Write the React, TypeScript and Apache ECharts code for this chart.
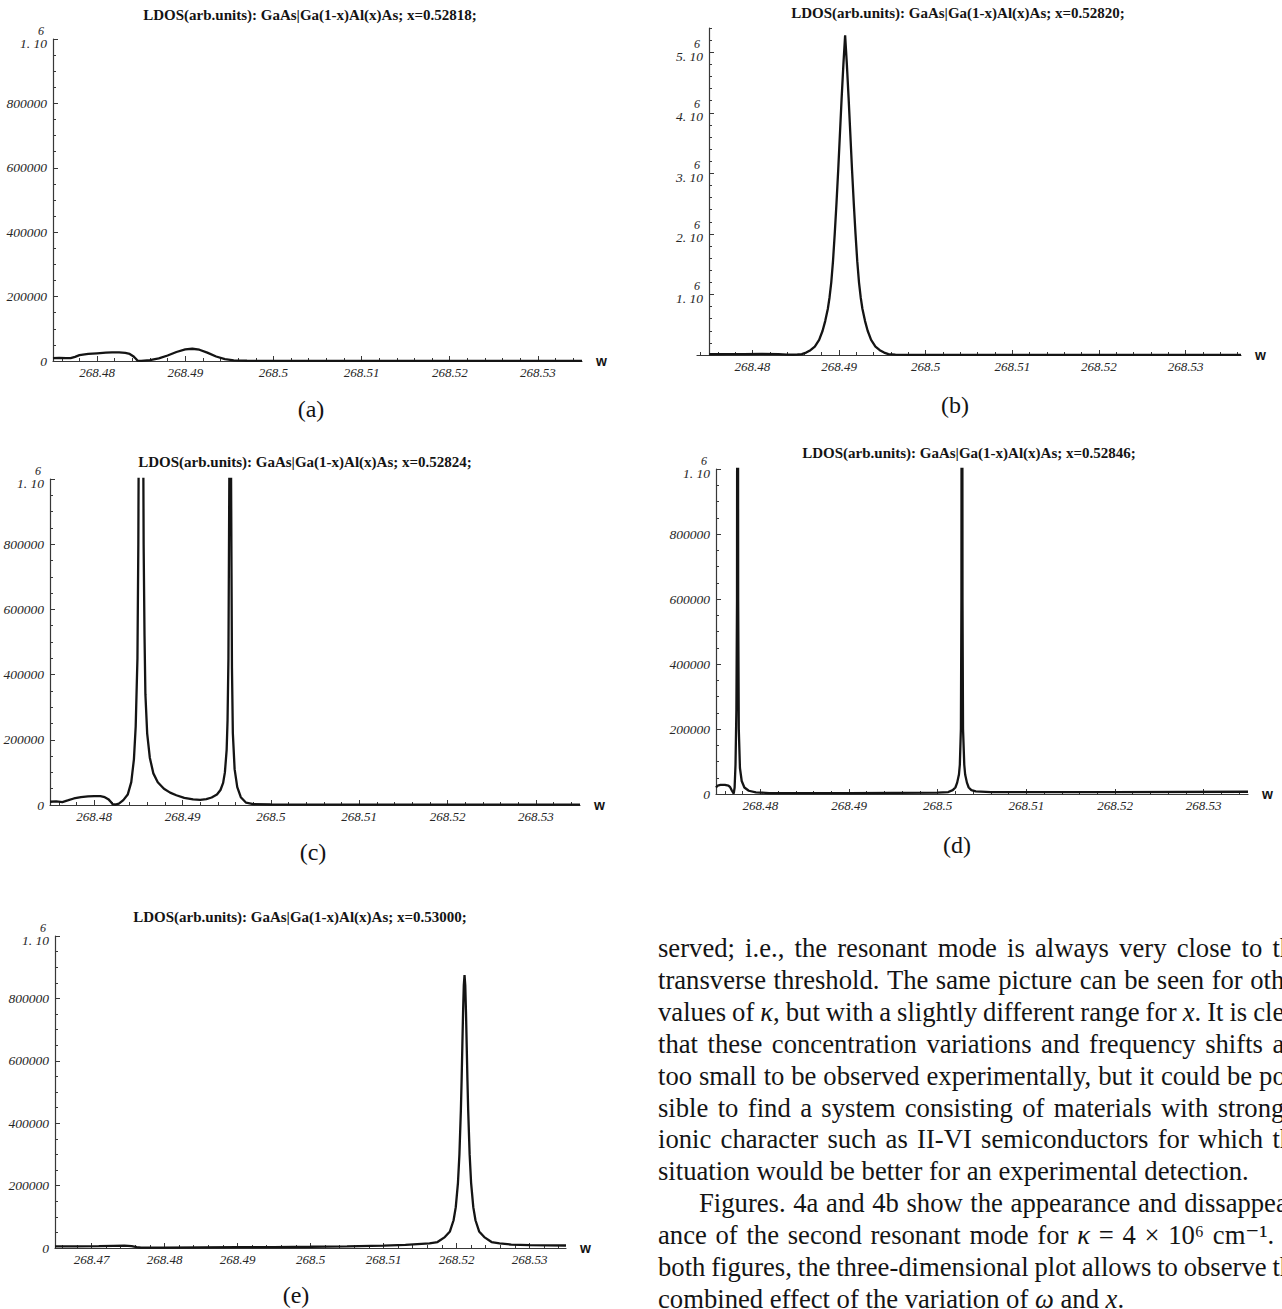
import React, { useEffect, useRef } from 'react';
import * as echarts from 'echarts';

// ---------- data: [w, LDOS] ----------
const panelA: [number, number][] = [
  [268.475, 9000], [268.4757, 10000], [268.4765, 9000], [268.477, 9000], [268.4775, 13000],
  [268.478, 18000], [268.479, 22000], [268.48, 24000], [268.481, 26000], [268.4817, 27000],
  [268.4825, 26500], [268.4832, 25000], [268.4837, 22000], [268.4841, 15000], [268.4844, 7000],
  [268.4846, 1000], [268.485, 500], [268.486, 3000], [268.487, 8000], [268.488, 17000],
  [268.489, 28000], [268.49, 36000], [268.4908, 38000], [268.4916, 35000], [268.4925, 26000],
  [268.4935, 14000], [268.4945, 6000], [268.4955, 2000], [268.497, 800], [268.5, 400],
  [268.51, 300], [268.52, 300], [268.53, 300], [268.535, 300],
];

const panelB: [number, number][] = [
  [268.475, 12000], [268.477, 14000], [268.479, 16000], [268.481, 18000], [268.483, 15000],
  [268.484, 6000], [268.4847, 4000], [268.4852, 8000], [268.4857, 15000], [268.4862, 40000],
  [268.4867, 80000], [268.4872, 140000], [268.4877, 250000], [268.4881, 400000], [268.4884, 560000],
  [268.4887, 760000], [268.4889, 950000], [268.4891, 1200000], [268.4893, 1550000], [268.4895, 2000000],
  [268.4897, 2500000], [268.4899, 3050000], [268.4901, 3650000], [268.4903, 4250000], [268.4905, 4800000],
  [268.4907, 5280000], [268.4909, 4800000], [268.4911, 4250000], [268.4913, 3650000], [268.4915, 3050000],
  [268.4917, 2500000], [268.4919, 2000000], [268.4921, 1550000], [268.4923, 1200000], [268.4925, 950000],
  [268.4927, 760000], [268.493, 560000], [268.4933, 400000], [268.4937, 250000], [268.4942, 140000],
  [268.4947, 80000], [268.4952, 40000], [268.4957, 15000], [268.4965, 5000], [268.498, 2000],
  [268.51, 1000], [268.5364, 1000],
];

const panelC: [number, number][] = [
  [268.475, 10000], [268.4757, 11000], [268.4764, 9000], [268.477, 14000], [268.4777, 20000],
  [268.4785, 24000], [268.4793, 26500], [268.48, 27500], [268.4807, 27000], [268.4812, 24000],
  [268.4816, 18000], [268.4819, 9000], [268.4821, 2000], [268.4824, 1500], [268.4828, 4000],
  [268.4833, 15000], [268.4838, 32000], [268.4842, 70000], [268.4845, 140000], [268.4847, 240000],
  [268.4849, 450000], [268.485, 800000], [268.4851, 1500000], [268.4853, 3000000], [268.4855, 1500000],
  [268.4856, 800000], [268.4857, 520000], [268.4858, 340000], [268.486, 220000], [268.4863, 145000],
  [268.4867, 97000], [268.4872, 70000], [268.4879, 50000], [268.4886, 38000], [268.4893, 30000],
  [268.4902, 22000], [268.4912, 17000], [268.492, 16000], [268.4927, 18000], [268.4933, 23000],
  [268.4939, 32000], [268.4943, 46000], [268.4946, 68000], [268.4948, 100000], [268.495, 170000],
  [268.4951, 260000], [268.4952, 450000], [268.4953, 1000000], [268.4954, 3000000], [268.4955, 1000000],
  [268.4956, 420000], [268.4957, 220000], [268.4959, 110000], [268.4962, 55000], [268.4966, 24000],
  [268.4972, 7000], [268.498, 2500], [268.5, 1500], [268.52, 1200], [268.535, 1200],
];

const panelD: [number, number][] = [
  [268.475, 20000], [268.4752, 26000], [268.4755, 28000], [268.476, 28000], [268.4764, 26000],
  [268.4766, 21000], [268.4768, 10000], [268.477, 1000], [268.4771, 20000], [268.4772, 90000],
  [268.4773, 260000], [268.47737, 600000], [268.47744, 3000000], [268.4775, 600000], [268.47757, 200000],
  [268.4777, 80000], [268.4779, 40000], [268.4782, 20000], [268.4787, 10000], [268.4795, 5000],
  [268.481, 3000], [268.49, 3000], [268.5, 4000], [268.5012, 6000], [268.5017, 12000],
  [268.502, 20000], [268.5022, 35000], [268.5024, 60000], [268.5025, 90000], [268.50262, 200000],
  [268.50268, 600000], [268.50274, 3000000], [268.5028, 600000], [268.50286, 200000], [268.503, 90000],
  [268.5031, 60000], [268.5033, 35000], [268.5035, 20000], [268.5038, 12000], [268.5043, 8000],
  [268.506, 6000], [268.52, 6000], [268.535, 7000],
];

const panelE: [number, number][] = [
  [268.465, 5000], [268.468, 5500], [268.471, 6000], [268.473, 7000], [268.4745, 7500],
  [268.4755, 6000], [268.4762, 2500], [268.4768, 1000], [268.48, 1500], [268.485, 2000],
  [268.49, 2500], [268.495, 3000], [268.5, 4000], [268.505, 5500], [268.51, 7500],
  [268.513, 10000], [268.5163, 15000], [268.5174, 19000], [268.5184, 35000], [268.5191, 53000],
  [268.5196, 89000], [268.5199, 131000], [268.5202, 209000], [268.5204, 300000], [268.5206, 442000],
  [268.5207, 537000], [268.5208, 647000], [268.5209, 756000], [268.521, 842000], [268.5211, 875000],
  [268.5212, 842000], [268.5213, 756000], [268.5214, 647000], [268.5215, 537000], [268.5216, 442000],
  [268.5218, 300000], [268.522, 209000], [268.5223, 131000], [268.5226, 89000], [268.5231, 53000],
  [268.5238, 35000], [268.5248, 19000], [268.5259, 15000], [268.5275, 11000], [268.53, 9000],
  [268.535, 8000],
];

// ---------- tick labels ----------
const xTickValues = [268.48, 268.49, 268.5, 268.51, 268.52, 268.53];
const xTickValuesE = [268.47, 268.48, 268.49, 268.5, 268.51, 268.52, 268.53];
const yTickValues = [0, 200000, 400000, 600000, 800000, 1000000];
const yTickValuesB = [1000000, 2000000, 3000000, 4000000, 5000000];

const concentrations = ['0.52818', '0.52820', '0.52824', '0.52846', '0.53000'];
const panelTags = ['(a)', '(b)', '(c)', '(d)', '(e)'];

const paragraphLines = [
  'served; i.e., the resonant mode is always very close to the',
  'transverse threshold. The same picture can be seen for other',
  'values of *κ*, but with a slightly different range for *x*. It is clear',
  'that these concentration variations and frequency shifts are',
  'too small to be observed experimentally, but it could be pos-',
  'sible to find a system consisting of materials with stronger',
  'ionic character such as II-VI semiconductors for which the',
  'situation would be better for an experimental detection.',
  'Figures. 4a and 4b show the appearance and dissappear-',
  'ance of the second resonant mode for *κ* = 4 × 10⁶ cm⁻¹. In',
  'both figures, the three-dimensional plot allows to observe the',
  'combined effect of the variation of *ω* and *x*.',
];
const paragraphJustified = [true, true, true, true, true, true, true, false, true, true, true, false];
const paragraphIndented = [false, false, false, false, false, false, false, false, true, false, false, false];

// ---------- layout / style ----------
const SERIF = "'Liberation Serif', 'Times New Roman', 'DejaVu Serif', serif";
const SANS = "'Liberation Sans', Arial, 'DejaVu Sans', sans-serif";
const INK = '#141414';
const AXIS = '#383838';
const LABEL = '#262626';

const layouts = [
  { left: 53, top: 39, width: 529, height: 322, xMin: 268.475, xMax: 268.535, yMax: 1e6, yOffset: 0, titleX: 310, titleY: 15, tagX: 311, tagY: 409 },
  { left: 697, top: 28, width: 544, height: 327, xMin: 268.4736, xMax: 268.5364, yMax: 5.4e6, yOffset: -12, titleX: 958, titleY: 13, tagX: 955, tagY: 405 },
  { left: 50, top: 479, width: 530, height: 326, xMin: 268.475, xMax: 268.535, yMax: 1e6, yOffset: 0, titleX: 305, titleY: 462, tagX: 313, tagY: 852 },
  { left: 716, top: 469, width: 532, height: 325, xMin: 268.475, xMax: 268.535, yMax: 1e6, yOffset: 0, titleX: 969, titleY: 453, tagX: 957, tagY: 845 },
  { left: 55, top: 936, width: 511, height: 312, xMin: 268.465, xMax: 268.535, yMax: 1e6, yOffset: 0, titleX: 300, titleY: 917, tagX: 296, tagY: 1295 },
];
const panelData = [panelA, panelB, panelC, panelD, panelE];
const panelXLabels = [xTickValues, xTickValues, xTickValues, xTickValues, xTickValuesE];
const panelYLabels = [yTickValues, yTickValuesB, yTickValues, yTickValues, yTickValues];

const TEXT_LEFT = 658;
const TEXT_RIGHT = 1305;
const TEXT_TOP = 948;
const TEXT_GAP = 31.9;
const TEXT_INDENT = 41;

function minorX(min: number, max: number): number[] {
  const out: number[] = [];
  for (let k = Math.ceil(min * 500 - 1e-6); k / 500 <= max + 1e-9; k++) {
    if (k % 5 !== 0) out.push(k / 500);
  }
  return out;
}
function minorY(max: number): number[] {
  const step = max > 2e6 ? 200000 : 50000;
  const major = max > 2e6 ? 1000000 : 200000;
  const out: number[] = [];
  for (let v = step; v <= max + 1; v += step) if (v % major !== 0) out.push(v);
  return out;
}
function fmtX(v: number): string {
  return String(parseFloat(Number(v).toFixed(3)));
}
function fmtY(v: number): string {
  if (Math.abs(v) < 1) return '0';
  if (v >= 999999) return `{e|6}\n{m|${Math.round(v / 1e6)}. 10}\n{s| }`;
  return String(Math.round(v));
}

function buildParagraph(): any[] {
  const canvas = document.createElement('canvas');
  const ctx = canvas.getContext('2d');
  const measure = (t: string, it: boolean, fs: number) => {
    if (!ctx) return t.length * fs * 0.45;
    ctx.font = `${it ? 'italic ' : ''}${fs}px ${SERIF}`;
    return ctx.measureText(t).width;
  };
  const parse = (w: string) =>
    w.split('*').map((t, j) => ({ t, it: j % 2 === 1 })).filter((p) => p.t.length > 0);
  const wordWidth = (w: string, fs: number) => parse(w).reduce((a, p) => a + measure(p.t, p.it, fs), 0);
  const lineWidth = (line: string, fs: number) => {
    const words = line.split(' ');
    return words.reduce((s, w) => s + wordWidth(w, fs), 0) + (words.length - 1) * measure(' ', false, fs);
  };
  let fs = 26.5;
  const w100 = lineWidth(paragraphLines[7], 100);
  if (w100 > 0) fs = Math.min(30, Math.max(22, (591 / w100) * 100));
  const els: any[] = [];
  paragraphLines.forEach((line, i) => {
    const y = TEXT_TOP + i * TEXT_GAP;
    const x0 = TEXT_LEFT + (paragraphIndented[i] ? TEXT_INDENT : 0);
    const words = line.split(' ');
    const widths = words.map((w) => wordWidth(w, fs));
    const total = widths.reduce((a, b) => a + b, 0);
    let gap = measure(' ', false, fs);
    if (paragraphJustified[i] && words.length > 1) gap = (TEXT_RIGHT - x0 - total) / (words.length - 1);
    let x = x0;
    words.forEach((w, k) => {
      const parts = parse(w);
      const hasIt = parts.some((p) => p.it);
      const text = hasIt ? parts.map((p) => (p.it ? `{i|${p.t}}` : p.t)).join('') : w;
      els.push({
        type: 'text',
        x,
        y,
        silent: true,
        style: {
          text,
          fontSize: fs,
          fontFamily: SERIF,
          fill: INK,
          align: 'left',
          verticalAlign: 'middle',
          rich: hasIt ? { i: { fontSize: fs, fontFamily: SERIF, fontStyle: 'italic', fill: INK } } : undefined,
        },
      });
      x += widths[k] + gap;
    });
  });
  return els;
}

export default function App() {
  const ref = useRef<HTMLDivElement>(null);
  useEffect(() => {
    document.body.style.margin = '0';
    const el = ref.current;
    if (!el) return;
    const chart = echarts.init(el, null, { renderer: 'svg' });

    const grids: any[] = [];
    const xAxes: any[] = [];
    const yAxes: any[] = [];
    const series: any[] = [];
    const graphics: any[] = [];

    layouts.forEach((p, i) => {
      grids.push({ left: p.left, top: p.top, width: p.width, height: p.height, containLabel: false, outerBoundsMode: 'none' });
      xAxes.push({
        type: 'value', gridIndex: i, position: 'bottom', min: p.xMin, max: p.xMax,
        axisLine: { show: true, onZero: false, lineStyle: { color: AXIS, width: 1.2 } },
        axisTick: { show: true, inside: true, length: 5, customValues: panelXLabels[i], lineStyle: { color: AXIS, width: 1 } },
        axisLabel: { show: true, customValues: panelXLabels[i], formatter: fmtX, fontFamily: SERIF, fontStyle: 'italic', fontSize: 13, color: LABEL, margin: 5 },
        splitLine: { show: false },
        name: 'w', nameLocation: 'end', nameGap: 14,
        nameTextStyle: { fontFamily: SANS, fontWeight: 'bold', fontSize: 14, color: INK, align: 'left', verticalAlign: 'middle' },
      });
      xAxes.push({
        type: 'value', gridIndex: i, position: 'bottom', min: p.xMin, max: p.xMax,
        axisLine: { show: false },
        axisTick: { show: true, inside: true, length: 3, customValues: minorX(p.xMin, p.xMax), lineStyle: { color: AXIS, width: 1 } },
        axisLabel: { show: false },
        splitLine: { show: false },
      });
      yAxes.push({
        type: 'value', gridIndex: i, position: 'left', offset: p.yOffset, min: 0, max: p.yMax,
        axisLine: { show: true, onZero: false, lineStyle: { color: AXIS, width: 1.2 } },
        axisTick: { show: true, inside: true, length: 5, customValues: panelYLabels[i], lineStyle: { color: AXIS, width: 1 } },
        axisLabel: {
          show: true, customValues: panelYLabels[i], formatter: fmtY, fontFamily: SERIF, fontStyle: 'italic',
          fontSize: 13.5, color: LABEL, margin: 6, align: 'right',
          rich: {
            e: { fontSize: 12, lineHeight: 11, fontStyle: 'italic', fontFamily: SERIF, color: LABEL, padding: [0, 3, 0, 0] },
            m: { fontSize: 13.5, lineHeight: 14, fontStyle: 'italic', fontFamily: SERIF, color: LABEL },
            s: { fontSize: 3, lineHeight: 3 },
          },
        },
        splitLine: { show: false },
      });
      yAxes.push({
        type: 'value', gridIndex: i, position: 'left', offset: p.yOffset, min: 0, max: p.yMax,
        axisLine: { show: false },
        axisTick: { show: true, inside: true, length: 3, customValues: minorY(p.yMax), lineStyle: { color: AXIS, width: 1 } },
        axisLabel: { show: false },
        splitLine: { show: false },
      });
      series.push({
        type: 'line', xAxisIndex: 2 * i, yAxisIndex: 2 * i, data: panelData[i],
        showSymbol: false, symbol: 'none', smooth: false, clip: true,
        lineStyle: { color: INK, width: 2.3 }, itemStyle: { color: INK },
        emphasis: { disabled: true }, silent: true,
      });
      graphics.push({
        type: 'text', x: p.titleX, y: p.titleY, silent: true,
        style: {
          text: `LDOS(arb.units): GaAs|Ga(1-x)Al(x)As; x=${concentrations[i]};`,
          fontFamily: SERIF, fontWeight: 'bold', fontSize: 15, fill: INK, align: 'center', verticalAlign: 'middle',
        },
      });
      graphics.push({
        type: 'text', x: p.tagX, y: p.tagY, silent: true,
        style: { text: panelTags[i], fontFamily: SERIF, fontSize: 24, fill: INK, align: 'center', verticalAlign: 'middle' },
      });
    });

    const paragraph = buildParagraph();

    chart.setOption({
      animation: false,
      backgroundColor: '#ffffff',
      grid: grids,
      xAxis: xAxes,
      yAxis: yAxes,
      series,
      graphic: { elements: [...graphics, ...paragraph] },
    });
    return () => chart.dispose();
  }, []);
  return <div ref={ref} style={{ width: 1282, height: 1309, background: '#fff' }} />;
}
